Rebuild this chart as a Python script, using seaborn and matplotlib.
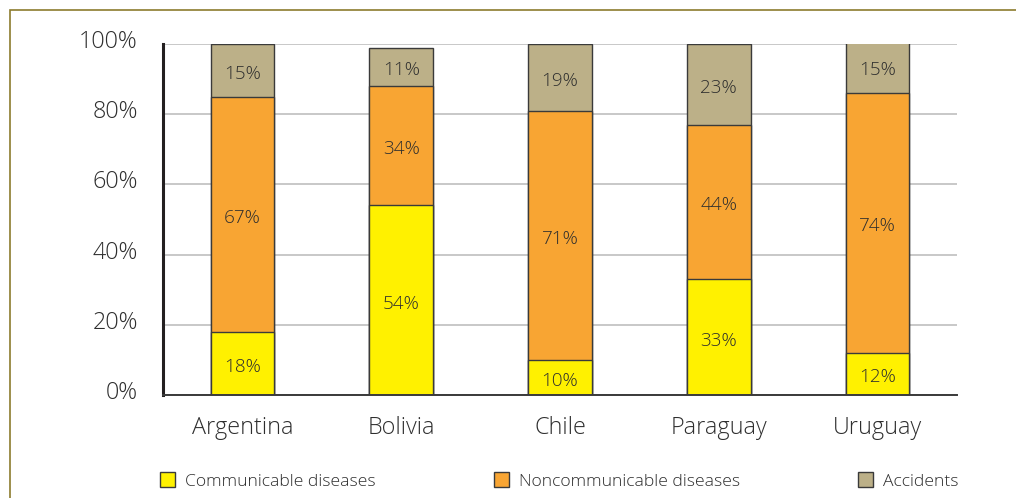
import matplotlib
matplotlib.use("Agg")
import matplotlib.pyplot as plt
import matplotlib.transforms as mtransforms
import seaborn as sns
import pandas as pd
import numpy as np
from matplotlib.patches import Rectangle, Patch

countries = ["Argentina", "Bolivia", "Chile", "Paraguay", "Uruguay"]
communicable = [18, 54, 10, 33, 12]
noncommunicable = [67, 34, 71, 44, 74]
accidents = [15, 11, 19, 23, 15]
series_names = ["Communicable diseases", "Noncommunicable diseases", "Accidents"]
y_ticks = [0, 20, 40, 60, 80, 100]

colors = ["#FFF100", "#F8A533", "#BCB088"]
edge = "#3A3A3A"
text_col = "#2E2E2E"

sns.set_theme(style="white")
plt.rcParams["font.family"] = ["Open Sans", "DejaVu Sans"]
plt.rcParams["font.weight"] = "light"

df = pd.DataFrame({
    "country": countries,
    "c": communicable,
    "n": noncommunicable,
    "a": accidents,
})
df["level1"] = df["c"]
df["level2"] = df["c"] + df["n"]
df["level3"] = df["c"] + df["n"] + df["a"]

fig = plt.figure(figsize=(10.16, 4.98), dpi=100)
ax = fig.add_axes([163 / 1016, 1 - 395 / 498, (957 - 163) / 1016, (395 - 44) / 498])

# stacked bars drawn back to front as cumulative totals
for col, color in zip(["level3", "level2", "level1"], colors[::-1]):
    sns.barplot(data=df, x="country", y=col, color=color, width=0.4,
                edgecolor=edge, linewidth=1.0, ax=ax, saturation=1, zorder=3)

ax.set_xlim(-0.5, len(countries) - 0.5)
ax.set_ylim(0, 100)
ax.set_xlabel("")
ax.set_ylabel("")

ax.set_yticks(y_ticks)
ax.set_yticklabels([f"{v}%" for v in y_ticks])
ax.yaxis.grid(True, color="#C8C8C8", linewidth=1.4, zorder=0)
ax.set_axisbelow(True)

ax.set_xticks(range(len(countries)))
ax.set_xticklabels(countries)
ax.set_xticks(np.arange(-0.5, len(countries), 1.0), minor=True)
ax.tick_params(axis="x", which="major", length=0, pad=15, labelsize=16.8, labelcolor=text_col)
ax.tick_params(axis="x", which="minor", length=6, width=1.2, color=edge, direction="out")
ax.tick_params(axis="y", length=0, pad=18, labelsize=16.8, labelcolor=text_col)

# y tick labels sit slightly above their gridlines
lift = mtransforms.ScaledTranslation(0, 5 / 100, fig.dpi_scale_trans)
for lbl in ax.get_yticklabels():
    lbl.set_transform(lbl.get_transform() + lift)

for side in ["top", "right"]:
    ax.spines[side].set_visible(False)
ax.spines["left"].set_color("#231F20")
ax.spines["left"].set_linewidth(2.2)
ax.spines["bottom"].set_color("#3A3A3A")
ax.spines["bottom"].set_linewidth(1.4)
ax.spines["left"].set_zorder(5)
ax.spines["bottom"].set_zorder(5)

# value labels centred in each segment
for i in range(len(countries)):
    bottom = 0
    for vals in (communicable, noncommunicable, accidents):
        v = vals[i]
        ax.annotate(f"{v}%", (i, bottom + v / 2), xytext=(0, -2.5), textcoords="offset points",
                    ha="center", va="center", fontsize=13.6, color=text_col, zorder=6)
        bottom += v

handles = [Patch(facecolor=c, edgecolor=edge, linewidth=1.0) for c in colors]
fig.legend(handles, series_names, loc="center left", bbox_to_anchor=(144 / 1016, 1 - 481 / 498),
           ncol=3, frameon=False, fontsize=12.6, handlelength=0.86, handleheight=0.86,
           handletextpad=0.57, columnspacing=6.75, labelcolor=text_col)

# outer frame
fig.add_artist(Rectangle((10 / 1016, -0.2), 1.2, 1.2 - 10 / 498 + 1e-9,
                         transform=fig.transFigure, fill=False,
                         edgecolor="#8C7B2E", linewidth=1.2))

fig.savefig("out.png", dpi=100)
